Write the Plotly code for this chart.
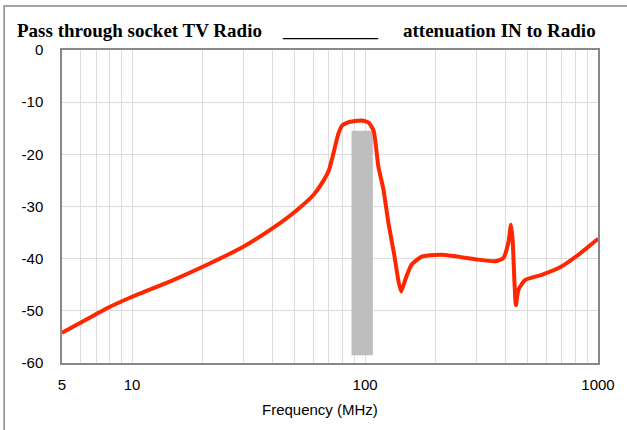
import plotly.graph_objects as go

freq_mhz = [5, 6, 7.8, 10, 15, 20, 30, 40, 50, 60, 66.6, 70, 72.5, 75, 77, 80, 84, 88, 97,
            104, 109, 114, 120, 126, 133, 139.5, 143, 148.6, 158, 175, 200, 221, 297,
            361, 392, 412, 423, 430, 438, 444, 455, 486, 573, 697, 821, 968, 1000]
atten_db = [-54.2, -52.3, -49.5, -47.3, -44.1, -41.6, -37.7, -34.2, -31.0, -27.8, -24.9,
            -23.0, -20.5, -17.8, -15.9, -14.4, -13.9, -13.7, -13.5, -14.0, -15.6, -22.3,
            -26.8, -33.2, -38.9, -44.6, -46.3, -44.1, -41.2, -39.6, -39.3, -39.3, -40.1,
            -40.5, -39.9, -37.0, -33.5, -36.4, -44.6, -48.9, -46.0, -44.1, -43.1, -41.5,
            -39.3, -36.7, -36.2]

fm_band_mhz = [87.5, 108]
fm_band_db = [-15.5, -58.5]

x_tick_vals = [5, 10, 100, 1000]
x_tick_text = ["5", "10", "100", "1000"]
x_minor_vals = [6, 7, 8, 9, 20, 30, 40, 50, 60, 70, 80, 90,
                200, 300, 400, 500, 600, 700, 800, 900]
y_tick_vals = [0, -10, -20, -30, -40, -50, -60]
y_tick_text = ["0", "-10", "-20", "-30", "-40", "-50", "-60"]

fig = go.Figure()

fig.add_trace(go.Scatter(
    x=[fm_band_mhz[0], fm_band_mhz[1], fm_band_mhz[1], fm_band_mhz[0], fm_band_mhz[0]],
    y=[fm_band_db[0], fm_band_db[0], fm_band_db[1], fm_band_db[1], fm_band_db[0]],
    fill="toself", fillcolor="#BEBEBE", mode="lines", line=dict(width=0, color="#BEBEBE"),
    hoverinfo="skip", showlegend=False))

fig.add_trace(go.Scatter(
    x=freq_mhz, y=atten_db, mode="lines",
    line=dict(color="#FF2600", width=4, shape="spline", smoothing=0.5),
    showlegend=False))

axis_font = dict(family="Liberation Sans, Arial, sans-serif", size=15, color="black")

fig.update_xaxes(
    type="log", range=[0.69897, 3], tickvals=x_tick_vals, ticktext=x_tick_text,
    showgrid=True, gridcolor="#DCDCDC", gridwidth=1,
    minor=dict(tickvals=x_minor_vals, showgrid=True, gridcolor="#DCDCDC", gridwidth=1),
    showline=True, linecolor="#888888", linewidth=1.5, mirror=True,
    ticks="", tickfont=axis_font, ticklabelstandoff=7, zeroline=False)

fig.update_yaxes(
    range=[-60, 0], tickvals=y_tick_vals, ticktext=y_tick_text,
    showgrid=True, gridcolor="#DCDCDC", gridwidth=1,
    showline=True, linecolor="#888888", linewidth=1.5, mirror=True,
    ticks="", tickfont=axis_font, ticklabelstandoff=14, zeroline=False)

title_font = dict(family="Liberation Serif, Times New Roman, serif", size=19, color="black")
title_y = 1.061

fig.add_annotation(text="<b>Pass through socket TV Radio</b>", xref="paper", yref="paper",
                   x=-0.0877, y=title_y, xanchor="left", yanchor="middle",
                   showarrow=False, font=title_font)
fig.add_annotation(text="<b>__________</b>", xref="paper", yref="paper",
                   x=0.5, y=title_y, xanchor="center", yanchor="middle",
                   showarrow=False, font=title_font)
fig.add_annotation(text="<b>attenuation IN to Radio</b>", xref="paper", yref="paper",
                   x=1.0, y=title_y, xanchor="right", yanchor="middle",
                   showarrow=False, font=title_font)
fig.add_annotation(text="Frequency (MHz)", xref="paper", yref="paper",
                   x=0.481, y=-0.147, xanchor="center", yanchor="middle",
                   showarrow=False, font=axis_font)

fig.add_shape(type="rect", xref="paper", yref="paper",
              x0=-0.108, y0=-2, x1=2, y1=1.1406,
              line=dict(color="#888888", width=1.5), fillcolor="rgba(0,0,0,0)")

fig.update_layout(
    width=627, height=430, margin=dict(l=62, r=29, t=50, b=67),
    paper_bgcolor="white", plot_bgcolor="white")

fig.write_html("out.html", config={"displayModeBar": False},
               post_script="document.body.style.margin='0';")
